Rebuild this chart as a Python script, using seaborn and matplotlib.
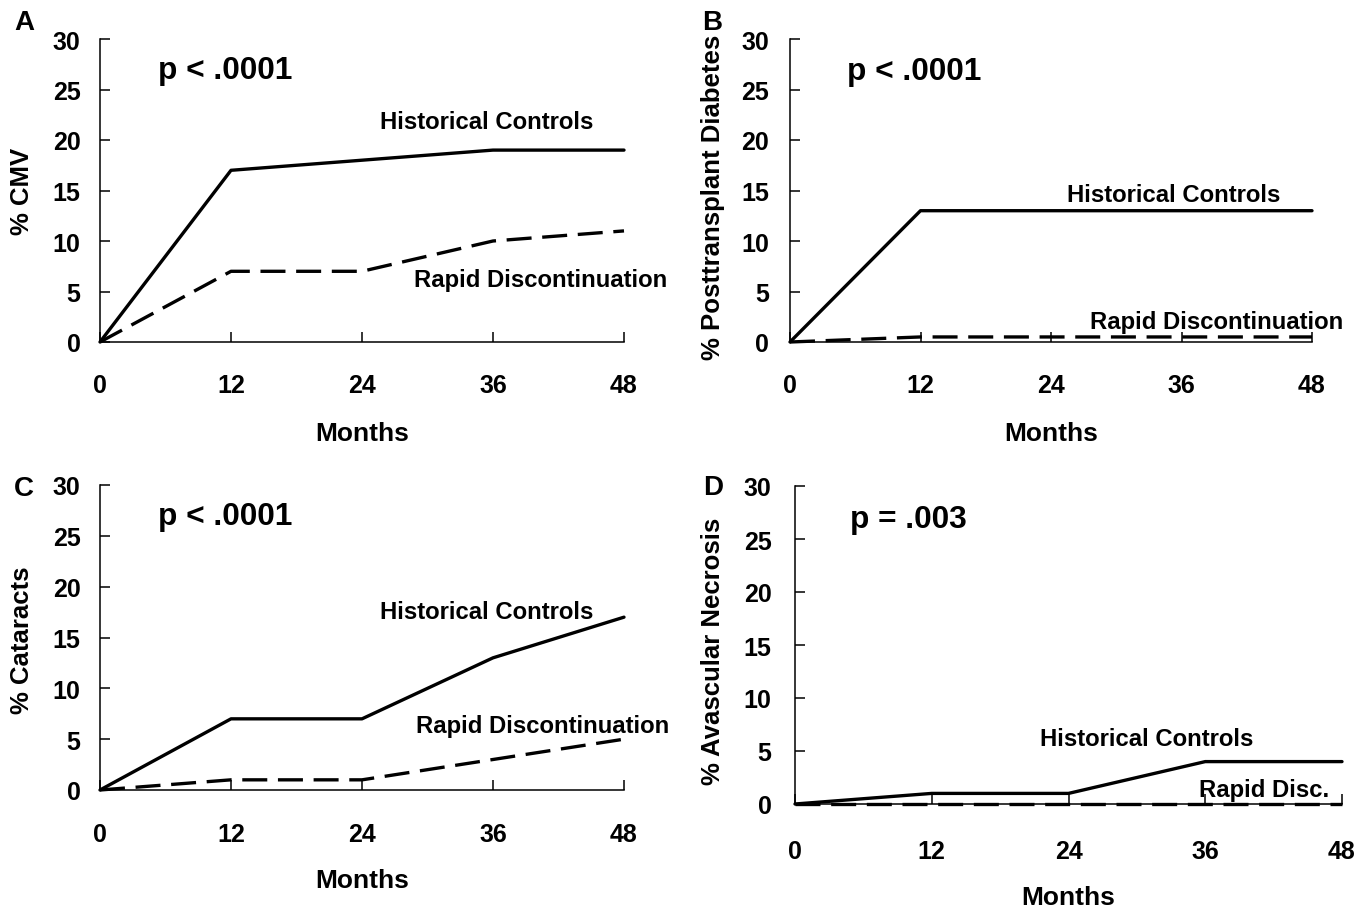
import matplotlib
matplotlib.use("Agg")
import matplotlib.pyplot as plt
import pandas as pd
import seaborn as sns

months = [0, 12, 24, 36, 48]

cmv_hist = [0, 17, 18, 19, 19]
cmv_rapid = [0, 7, 7, 10, 11]
diab_hist = [0, 13, 13, 13, 13]
diab_rapid = [0, 0.5, 0.5, 0.5, 0.5]
cat_hist = [0, 7, 7, 13, 17]
cat_rapid = [0, 1, 1, 3, 5]
avn_hist = [0, 1, 1, 4, 4]
avn_rapid = [0, 0, 0, 0, 0]

letters = ["A", "B", "C", "D"]
ylabels = ["% CMV", "% Posttransplant Diabetes", "% Cataracts", "% Avascular Necrosis"]
pvalues = ["p < .0001", "p < .0001", "p < .0001", "p = .003"]
rapid_labels = ["Rapid Discontinuation", "Rapid Discontinuation",
                "Rapid Discontinuation", "Rapid Disc."]
hist_series = [cmv_hist, diab_hist, cat_hist, avn_hist]
rapid_series = [cmv_rapid, diab_rapid, cat_rapid, avn_rapid]

sns.set_style("ticks")
plt.rcParams["font.family"] = ["Liberation Sans", "DejaVu Sans"]
plt.rcParams["font.weight"] = "bold"
for k in ["text.color", "axes.labelcolor", "xtick.color", "ytick.color"]:
    plt.rcParams[k] = "black"

W, H = 1372, 912
fig = plt.figure(figsize=(W / 100, H / 100), dpi=100)

# axes boxes in pixels: left, right, top, bottom
boxes = [(100, 624, 40, 343), (790, 1312, 40, 343),
         (100, 624, 486, 791), (795, 1342, 487, 805)]
# text anchors in data coords
hist_xy = [(35.4, 21.8), (35.3, 14.6), (35.4, 17.6), (30.9, 6.2)]
rapid_xy = [(40.4, 6.2), (39.2, 2.0), (40.5, 6.3), (41.2, 1.4)]
p_xy = [(5.3, 26.9), (5.2, 26.8), (5.3, 27.0), (4.8, 26.9)]
letter_px = [(24, 23), (712, 23), (24, 489), (713, 488)]
ylabel_px = [(22, 191), (713, 197), (22, 640), (713, 651)]
xlabel_top = [422, 422, 869, 886]
xtick_pad = [22, 22, 23, 25]
ytick_pad = [14, 15, 14, 17]

for i in range(4):
    l, r, t, b = boxes[i]
    ax = fig.add_axes([l / W, 1 - b / H, (r - l) / W, (b - t) / H])
    df = pd.DataFrame({"Months": months, "hist": hist_series[i], "rapid": rapid_series[i]})
    sns.lineplot(data=df, x="Months", y="hist", ax=ax, color="black", lw=2.4,
                 clip_on=False)
    sns.lineplot(data=df, x="Months", y="rapid", ax=ax, color="black", lw=2.4,
                 clip_on=False)
    ax.lines[1].set_dashes((7.5, 3.2))
    ax.set_xlim(0, 48)
    ax.set_ylim(0, 30)
    ax.set_xticks(months)
    ax.set_yticks(range(0, 31, 5))
    sns.despine(ax=ax)
    for s in ["left", "bottom"]:
        ax.spines[s].set_linewidth(1.1)
        ax.spines[s].set_color("black")
    ax.tick_params(axis="x", direction="in", length=7, width=1.1,
                   pad=xtick_pad[i], labelsize=18)
    ax.tick_params(axis="y", direction="in", length=7, width=1.1,
                   pad=ytick_pad[i], labelsize=18)
    ax.set_xlabel("Months", fontsize=19, fontweight="bold")
    ax.xaxis.set_label_coords(0.5, -(xlabel_top[i] - b) / (b - t))
    ax.set_ylabel("")
    fig.text(ylabel_px[i][0] / W, 1 - ylabel_px[i][1] / H, ylabels[i],
             rotation=90, ha="center", va="center", fontsize=18.5,
             fontweight="bold")
    ax.text(*hist_xy[i], "Historical Controls", ha="center", va="center",
            fontsize=17.2, fontweight="bold")
    ax.text(*rapid_xy[i], rapid_labels[i], ha="center", va="center",
            fontsize=17.2, fontweight="bold")
    ax.text(*p_xy[i], pvalues[i], ha="left", va="center", fontsize=22.8,
            fontweight="bold")
    fig.text(letter_px[i][0] / W, 1 - letter_px[i][1] / H, letters[i],
             ha="center", va="center", fontsize=20, fontweight="bold")

fig.savefig("out.png", dpi=100)
